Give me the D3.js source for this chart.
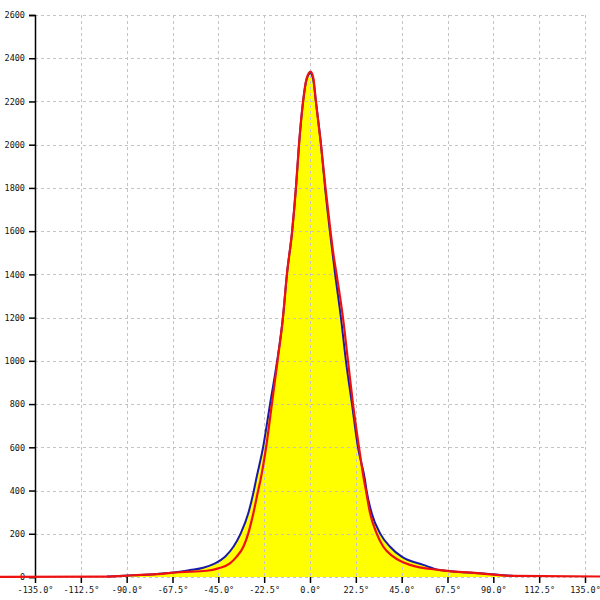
<!DOCTYPE html>
<html>
<head>
<meta charset="utf-8">
<script src="https://cdn.jsdelivr.net/npm/d3@7"></script>
<style>
  html, body { margin: 0; padding: 0; background: #fff; }
  svg { display: block; }
</style>
</head>
<body>
<svg id="chart" width="600" height="600"></svg>
<script>
// ---- data ----
const xTicks = [-135, -112.5, -90, -67.5, -45, -22.5, 0, 22.5, 45, 67.5, 90, 112.5, 135];
const yTicks = [0, 200, 400, 600, 800, 1000, 1200, 1400, 1600, 1800, 2000, 2200, 2400, 2600];

// measured histogram (blue, filled yellow)
const blueAngles = [-99.7, -87, -75, -64, -58.9, -52.4, -46.6, -41.7, -37.6, -34.0, -30.3, -27.6, -26.5, -23.1, -19.6, -16.2, -13.3, -11.3, -8.8, -6.9, -5.4, -3.4, -1.7, 0.2, 1.6, 2.9, 5.4, 7.4, 9.8, 12.3, 15.2, 17.7, 20.6, 23.6, 27.0, 27.8, 30.3, 34.4, 39.3, 45.0, 55.6, 63.8, 83.5, 99.7];
const blueCounts = [2, 8, 14, 24, 32, 43, 63, 94, 140, 202, 295, 398, 449, 597, 801, 995, 1199, 1403, 1597, 1801, 2000, 2199, 2300, 2332, 2300, 2199, 2000, 1801, 1597, 1403, 1199, 995, 801, 597, 449, 398, 295, 202, 140, 94, 56, 32, 17, 5];

// fitted curve (red)
const redAngles = [-180, -100, -87, -75, -64, -50.7, -45.0, -39.3, -36.0, -32.7, -30.3, -27.8, -25.5, -24.3, -21.6, -18.7, -16.0, -13.3, -11.3, -8.8, -6.9, -5.4, -3.4, -1.7, 0.3, 1.7, 2.9, 5.4, 7.6, 10.1, 11.4, 13.0, 16.2, 18.7, 21.1, 24.1, 26.5, 27.5, 29.5, 32.7, 36.0, 40.9, 49.1, 63.8, 83.5, 99.7, 180];
const redCounts = [0, 2, 8, 13, 22, 29, 40, 63, 94, 140, 202, 295, 398, 449, 597, 801, 995, 1199, 1403, 1597, 1801, 2000, 2199, 2305, 2338, 2305, 2199, 2000, 1801, 1597, 1500, 1403, 1199, 995, 801, 597, 449, 398, 295, 202, 140, 94, 56, 32, 17, 5, 0];

// ---- chart ----
const svg = d3.select("#chart");
const x = d3.scaleLinear().domain([-135, 135]).range([35, 585]);
const y = d3.scaleLinear().domain([0, 2600]).range([577, 15]);

const blue = blueAngles.map((a, i) => ({a, v: blueCounts[i]}));
const red = redAngles.map((a, i) => ({a, v: redCounts[i]}));

// fill under measured curve
svg.append("path")
  .datum(blue)
  .attr("fill", "#ffff00")
  .attr("d", d3.area().x(d => x(d.a)).y0(y(0)).y1(d => y(d.v)).curve(d3.curveMonotoneX));

// grid
const grid = svg.append("g").attr("stroke", "#c4c4c4").attr("stroke-dasharray", "3,3").attr("stroke-width", 1);
grid.selectAll("line.v").data(xTicks).join("line")
  .attr("x1", d => Math.round(x(d)) + 0.5).attr("x2", d => Math.round(x(d)) + 0.5)
  .attr("y1", y(2600)).attr("y2", y(0));
grid.selectAll("line.h").data(yTicks).join("line")
  .attr("x1", x(-135)).attr("x2", x(135))
  .attr("y1", d => Math.round(y(d)) + 0.5).attr("y2", d => Math.round(y(d)) + 0.5);

// axes
const fmtX = d => d.toFixed(1) + "°";
const xAxis = svg.append("g").attr("transform", `translate(0,${y(0)})`)
  .call(d3.axisBottom(x).tickValues(xTicks).tickFormat(fmtX).tickSize(6).tickPadding(4));
const yAxis = svg.append("g").attr("transform", `translate(${x(-135)},0)`)
  .call(d3.axisLeft(y).tickValues(yTicks).tickFormat(d3.format("d")).tickSize(6).tickPadding(4));
[xAxis, yAxis].forEach(g => {
  g.select(".domain").attr("stroke", "#000").attr("stroke-width", 1.5);
  g.selectAll(".tick line").attr("stroke", "#000").attr("stroke-width", 1.5);
  g.selectAll(".tick text").attr("fill", "#111")
    .style("font-family", '"DejaVu Sans Mono", monospace').style("font-size", "8.5px");
});
xAxis.select(".domain").remove();

// lines
const line = d3.line().x(d => x(d.a)).y(d => y(d.v)).curve(d3.curveMonotoneX);
svg.append("path").datum(blue).attr("fill", "none").attr("stroke", "#1a1aa8").attr("stroke-width", 2).attr("d", line);
svg.append("path").datum(red).attr("fill", "none").attr("stroke", "#ee1111").attr("stroke-width", 2.2).attr("d", line);
</script>
</body>
</html>
